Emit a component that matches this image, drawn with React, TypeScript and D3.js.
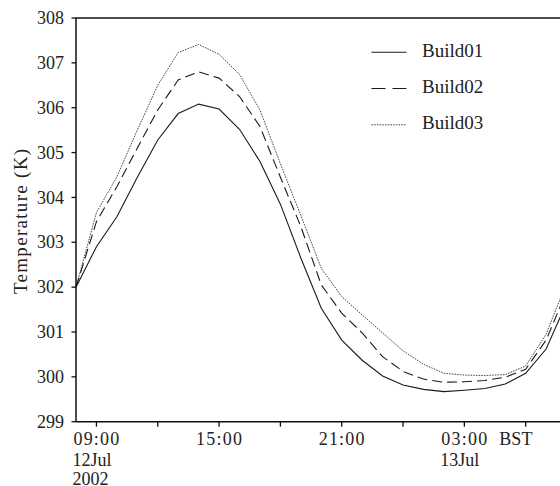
import * as d3 from "d3";

// hourly values, 08:00 12 Jul 2002 -> 08:00 13 Jul 2002 (BST)
const build01 = [
  302.0, 302.9, 303.57, 304.45, 305.28, 305.87, 306.08, 305.97, 305.52, 304.8,
  303.85, 302.65, 301.53, 300.82, 300.37, 300.02, 299.82, 299.72, 299.67, 299.7,
  299.74, 299.84, 300.08, 300.62, 301.65,
];
const build02 = [
  302.0, 303.46, 304.24, 305.1, 305.95, 306.62, 306.8, 306.66, 306.25, 305.58,
  304.45, 303.35, 302.05, 301.42, 300.98, 300.45, 300.12, 299.95, 299.88, 299.89,
  299.92, 299.99, 300.17, 300.82, 301.9,
];
const build03 = [
  302.0, 303.66, 304.46, 305.5, 306.5, 307.23, 307.41, 307.19, 306.74, 305.95,
  304.75, 303.6, 302.42, 301.79, 301.38, 300.98, 300.58, 300.28, 300.08, 300.04,
  300.03, 300.05, 300.24, 300.95, 302.1,
];
const seriesNames = ["Build01", "Build02", "Build03"];
const yTicks = [299, 300, 301, 302, 303, 304, 305, 306, 307, 308];

const start = new Date(2002, 6, 12, 8);
const end = new Date(2002, 6, 13, 8);
const times = d3.timeHour.range(start, d3.timeHour.offset(end, 1));

// extra text under some of the time labels
const subLabels: Record<string, string[]> = {
  "09:00": ["12Jul", "2002"],
  "03:00": ["13Jul"],
};

const font = "Liberation Serif";

export default function App() {
  const width = 560;
  const height = 486;
  const left = 76;
  const top = 18;
  const bottom = 421.7;

  const x = d3.scaleTime().domain([start, end]).range([left, left + 24 * 20.44]);
  const y = d3.scaleLinear().domain([299, 308]).range([bottom, top]);

  const line = d3
    .line<number>()
    .x((_, i) => x(times[i]))
    .y((d) => y(d));

  const styles = [
    { dash: undefined, legendDash: undefined, w: 1.1, color: "#1a1a1a" },
    { dash: "10,5", legendDash: "14,7", w: 1.1, color: "#1a1a1a" },
    { dash: "1.6,1.1", legendDash: "1.6,1.1", w: 0.9, color: "#333" },
  ];
  const data = [build01, build02, build03];

  const ticks3h = d3.timeHour.every(3)!.range(d3.timeHour.offset(start, 1), end);
  const fmt = d3.timeFormat("%H:%M");

  return (
    <svg
      width={width}
      height={height}
      style={{ position: "absolute", left: 0, top: 0, background: "#fff" }}
    >
      {/* series */}
      {data.map((d, i) => (
        <path
          key={seriesNames[i]}
          d={line(d) ?? ""}
          fill="none"
          stroke={styles[i].color}
          strokeWidth={styles[i].w}
          strokeDasharray={styles[i].dash}
        />
      ))}

      {/* frame: left axis, bottom axis, top border */}
      <line x1={left} x2={left} y1={top} y2={bottom} stroke="#111" strokeWidth={1.5} />
      <line x1={left} x2={width} y1={bottom} y2={bottom} stroke="#111" strokeWidth={1.5} />
      <line x1={left} x2={width} y1={top} y2={top} stroke="#111" strokeWidth={1.5} />

      {/* y axis */}
      {yTicks.map((t) => (
        <g key={t} transform={`translate(${left},${y(t)})`}>
          <line x1={-4.5} x2={0} stroke="#111" strokeWidth={1.3} />
          <text x={-12} dy="0.34em" textAnchor="end" fontSize={18} fontFamily={font} fill="#222">
            {t}
          </text>
        </g>
      ))}
      <text
        transform={`translate(27,${(top + bottom) / 2 + 1}) rotate(-90)`}
        textAnchor="middle"
        fontSize={19}
        fontFamily={font}
        letterSpacing={1.3}
        fill="#222"
      >
        Temperature (K)
      </text>

      {/* x axis */}
      {ticks3h.map((t) => {
        const px = x(t);
        const label = fmt(t);
        const showLabel = t.getHours() % 6 === 3;
        return (
          <g key={t.getTime()} transform={`translate(${px},${bottom})`}>
            <line y1={0} y2={5} stroke="#111" strokeWidth={1.3} />
            {showLabel && (
              <text x={-23} y={23.3} fontSize={18} fontFamily={font} letterSpacing={1.2} fill="#222">
                {label}
              </text>
            )}
            {showLabel &&
              (subLabels[label] ?? []).map((s, k) => (
                <text key={s} x={-24} y={44.3 + k * 19} fontSize={18} fontFamily={font} fill="#222">
                  {s}
                </text>
              ))}
            {showLabel && label === "03:00" && (
              <text x={35} y={23.3} fontSize={18} fontFamily={font} fill="#222">
                BST
              </text>
            )}
          </g>
        );
      })}

      {/* legend */}
      {seriesNames.map((name, i) => {
        const by = 56.7 + i * 36.3;
        return (
          <g key={name}>
            <line
              x1={371.5}
              x2={406.5}
              y1={by - 4.5}
              y2={by - 4.5}
              stroke={styles[i].color}
              strokeWidth={styles[i].w}
              strokeDasharray={styles[i].legendDash}
            />
            <text x={422} y={by} fontSize={19} fontFamily={font} fill="#222">
              {name}
            </text>
          </g>
        );
      })}
    </svg>
  );
}
